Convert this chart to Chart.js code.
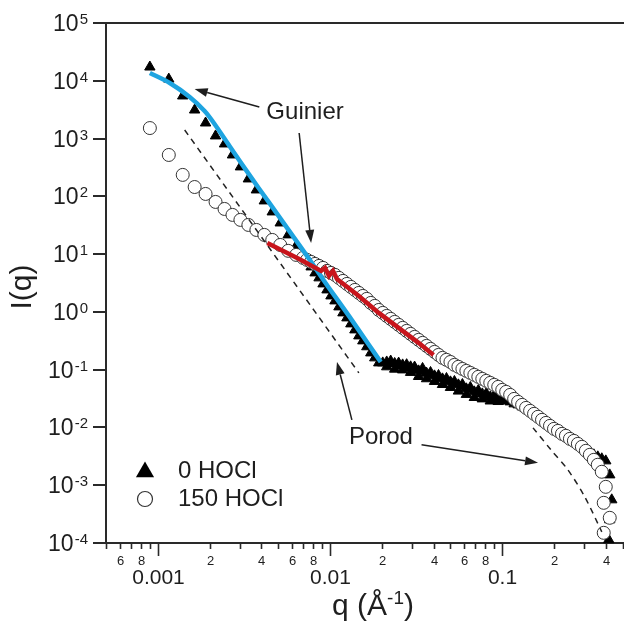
<!DOCTYPE html>
<html>
<head>
<meta charset="utf-8">
<script src="https://cdn.jsdelivr.net/npm/chart.js@4.4.0/dist/chart.umd.min.js"></script>
<style>
  html, body { margin: 0; padding: 0; background: #fff; overflow: hidden; }
  canvas { display: block; }
</style>
</head>
<body>
<canvas id="sansChart" width="630" height="626"></canvas>
<script>
// q grid shared by both measured curves (1/Angstrom)
const q = [0.000899, 0.001158, 0.001395, 0.001636, 0.001894, 0.002164, 0.00244, 0.002714, 0.003018, 0.003357,
  0.003736, 0.004155, 0.00462, 0.00514, 0.005717, 0.006361, 0.00698, 0.00736, 0.00777, 0.00819,
  0.00864, 0.00911, 0.00961, 0.01013, 0.01069, 0.01127, 0.01189, 0.01254, 0.01322, 0.01395,
  0.01471, 0.01551, 0.01636, 0.01726, 0.0182, 0.0192, 0.02025, 0.02135, 0.02252, 0.02375,
  0.02505, 0.02642, 0.02787, 0.02939, 0.031, 0.0327, 0.03449, 0.03637, 0.03836, 0.04046,
  0.04268, 0.04501, 0.04748, 0.05007, 0.05281, 0.0557, 0.05875, 0.06196, 0.06535, 0.06893,
  0.0727, 0.07668, 0.08087, 0.0853, 0.08996, 0.09488, 0.1001, 0.1055, 0.1113, 0.1174,
  0.1238, 0.1306, 0.1377, 0.1453, 0.1532, 0.1616, 0.1704, 0.1798, 0.1896, 0.2,
  0.2109, 0.2225, 0.2346, 0.2475, 0.261, 0.2753, 0.2904, 0.3063, 0.323, 0.3407,
  0.3593, 0.379, 0.3997];

// 0 HOCl (filled triangles)
const iHocl0 = [17300, 10700, 5460, 3120, 1860, 1110, 806, 520, 323, 200,
  129, 83.3, 53.7, 34.6, 21.5, 13.9, 9.31, 7.63, 6.0, 4.73,
  3.88, 3.05, 2.4, 1.89, 1.55, 1.22, 0.961, 0.787, 0.62, 0.488,
  0.384, 0.315, 0.249, 0.195, 0.16, 0.131, 0.131, 0.136, 0.126, 0.128,
  0.118, 0.121, 0.109, 0.112, 0.101, 0.0953, 0.0935, 0.087, 0.0813, 0.0781,
  0.0721, 0.0693, 0.064, 0.0615, 0.0568, 0.0546, 0.0504, 0.0466, 0.0447, 0.0413,
  0.0397, 0.0381, 0.0352, 0.0338, 0.0325, 0.0312, 0.03, 0.0288, 0.0277, 0.0256,
  0.0246, 0.0227, 0.021, 0.0194, 0.0172, 0.0153, 0.01356, 0.012, 0.01066, 0.00946,
  0.00839, 0.00775, 0.00688, 0.00635, 0.00563, 0.0052, 0.00481, 0.00426, 0.00378, 0.00336,
  0.0031, 0.00287, 0.00264];
// scatter of the 0 HOCl points in the shoulder (q grid points 37..66)
const iHocl0Scatter = [0.112, 0.141, 0.102, 0.13, 0.099, 0.122, 0.0896, 0.111, 0.0762, 0.105,
  0.0696, 0.0894, 0.0625, 0.0793, 0.0554, 0.0704, 0.0492, 0.0625, 0.0426, 0.0554,
  0.0373, 0.0492, 0.033, 0.0437, 0.0312, 0.0387, 0.0287, 0.0358, 0.0281, 0.0315];
const qTail0 = [0.4216, 0.433, 0.4216, 0.416];
const iTail0 = [0.00151, 0.000559, 0.000252, 0.000114];

// 150 HOCl (open circles)
const iHocl150 = [1520, 520, 235, 145, 110, 80, 60.5, 47.7, 39.1, 32.0,
  26.2, 21.5, 17.6, 14.4, 11.4, 9.69, 8.6, 7.94, 7.33, 6.77,
  6.25, 5.77, 5.12, 4.73, 4.37, 3.88, 3.44, 3.05, 2.71, 2.4,
  2.13, 1.89, 1.68, 1.43, 1.27, 1.08, 0.961, 0.852, 0.757, 0.671,
  0.596, 0.529, 0.469, 0.416, 0.369, 0.328, 0.291, 0.258, 0.229, 0.203,
  0.18, 0.16, 0.148, 0.136, 0.121, 0.112, 0.103, 0.0953, 0.088, 0.0813,
  0.0751, 0.0693, 0.064, 0.0591, 0.0546, 0.0504, 0.0447, 0.0413, 0.0366, 0.0312,
  0.0277, 0.0246, 0.0218, 0.0194, 0.0172, 0.0153, 0.01356, 0.012, 0.01066, 0.00946,
  0.00873, 0.00775, 0.00716, 0.00635, 0.00586, 0.0052, 0.00462, 0.00394, 0.00336, 0.00275,
  0.00226, 0.00171, 0.000938];
const qTail150 = [0.389, 0.4216, 0.389];
const iTail150 = [0.000496, 0.000273, 0.00015];

// Guinier fits
const qBlue = [0.000899, 0.001173, 0.001531, 0.001869, 0.002135, 0.002608, 0.003402, 0.004441, 0.005794, 0.007561, 0.009868, 0.01288, 0.01681, 0.01971];
const iBlue = [13640, 9160, 5250, 3000, 1790, 745, 235, 76.9, 25.2, 8.26, 2.6, 0.852, 0.269, 0.136];
const qRed = [0.004324, 0.00662, 0.008872, 0.009357, 0.009868, 0.01041, 0.01098, 0.01471, 0.0192, 0.02505, 0.0327, 0.03992];
const iRed = [15.6, 8.26, 5.12, 5.77, 4.2, 5.12, 3.72, 1.89, 0.961, 0.529, 0.291, 0.18];

// Porod lines (dashed)
const qPorodLow = [0.001432, 0.01471];
const iPorodLow = [1409, 0.088];
const qPorodHigh = [0.1511, 0.192, 0.2407, 0.3018, 0.379];
const iPorodHigh = [0.00984, 0.0041, 0.00185, 0.00063, 0.000156];

// axis ticks
const yDecades = [-4, -3, -2, -1, 0, 1, 2, 3, 4, 5];
const xDecades = [-4, -3, -2, -1];
const xMinorLabels = [2, 4, 6, 8];
const xMajorLabels = ['0.001', '0.01', '0.1'];

const FONT = "'Liberation Sans', Arial, sans-serif";
const INK = '#1e1e1e';

function pts(xs, ys) {
    return xs.map((x, i) => ({ x: x, y: ys[i] }));
}

function arrow(ctx, x1, y1, x2, y2) {
    const ang = Math.atan2(y2 - y1, x2 - x1);
    const head = 13, half = 4.5;
    const bx = x2 - Math.cos(ang) * head, by = y2 - Math.sin(ang) * head;
    ctx.beginPath();
    ctx.moveTo(x1, y1);
    ctx.lineTo(bx, by);
    ctx.stroke();
    ctx.beginPath();
    ctx.moveTo(x2, y2);
    ctx.lineTo(bx + Math.sin(ang) * half, by - Math.cos(ang) * half);
    ctx.lineTo(bx - Math.sin(ang) * half, by + Math.cos(ang) * half);
    ctx.closePath();
    ctx.fill();
}

// frame, ticks and labels drawn by hand so the superscripts look right
const axesPlugin = {
    id: 'sasAxes',
    beforeDatasetsDraw(chart) {
        const ctx = chart.ctx;
        const xs = chart.scales.x, ys = chart.scales.y;
        const { left, right, top, bottom } = chart.chartArea;
        ctx.save();
        ctx.strokeStyle = '#2a2a2a';
        ctx.lineWidth = 2;
        ctx.beginPath();
        ctx.moveTo(left - 13, top); ctx.lineTo(right + 5, top);
        ctx.moveTo(left, top); ctx.lineTo(left, bottom);
        ctx.moveTo(left - 6, bottom); ctx.lineTo(right + 5, bottom);
        ctx.stroke();

        // y ticks
        ctx.fillStyle = INK;
        yDecades.forEach(e => {
            const y = Math.round(ys.getPixelForValue(Math.pow(10, e)));
            ctx.beginPath();
            ctx.moveTo(left - 13, y); ctx.lineTo(left, y);
            ctx.stroke();
            const sup = String(e);
            ctx.font = '15px ' + FONT;
            ctx.textAlign = 'right';
            ctx.textBaseline = 'alphabetic';
            const supW = ctx.measureText(sup).width;
            ctx.fillText(sup, 88, y + 1);
            ctx.font = '23px ' + FONT;
            ctx.fillText('10', 88 - supW - 1, y + 8);
        });

        // x ticks
        ctx.lineWidth = 1.6;
        xDecades.forEach(k => {
            for (let m = 1; m <= 9; m++) {
                const v = m * Math.pow(10, k);
                if (v < xs.min * 0.999 || v > xs.max * 1.001) continue;
                const x = Math.round(xs.getPixelForValue(v)) + 0.5;
                ctx.beginPath();
                ctx.moveTo(x, bottom);
                ctx.lineTo(x, bottom + (m === 1 ? 13 : 6));
                ctx.stroke();
                ctx.textAlign = 'center';
                ctx.textBaseline = 'middle';
                if (xMinorLabels.includes(m)) {
                    ctx.font = '13px ' + FONT;
                    ctx.fillText(String(m), x, bottom + 18);
                }
                if (m === 1) {
                    const lab = xMajorLabels.find(s => Math.abs(parseFloat(s) - v) < v * 1e-6);
                    if (lab) {
                        ctx.font = '21px ' + FONT;
                        ctx.fillText(lab, x, bottom + 35);
                    }
                }
            }
        });

        // axis titles
        ctx.textBaseline = 'alphabetic';
        ctx.textAlign = 'left';
        const t1 = 'q (\u00C5', t2 = ')';
        ctx.font = '19px ' + FONT;
        const supW = ctx.measureText('-1').width;
        ctx.font = '30px ' + FONT;
        const w1 = ctx.measureText(t1).width, w2 = ctx.measureText(t2).width;
        const tx = 373 - (w1 + supW + w2) / 2;
        ctx.fillText(t1, tx, 615);
        ctx.font = '19px ' + FONT;
        ctx.fillText('-1', tx + w1, 604);
        ctx.font = '30px ' + FONT;
        ctx.fillText(t2, tx + w1 + supW, 615);

        ctx.save();
        ctx.translate(23, 287);
        ctx.rotate(-Math.PI / 2);
        ctx.textAlign = 'center';
        ctx.textBaseline = 'middle';
        ctx.fillText('I(q)', 0, 0);
        ctx.restore();
        ctx.restore();
    },
    afterDatasetsDraw(chart) {
        const ctx = chart.ctx;
        const xs = chart.scales.x, ys = chart.scales.y;
        const P = (qv, iv) => [xs.getPixelForValue(qv), ys.getPixelForValue(iv)];
        ctx.save();
        ctx.fillStyle = INK;
        ctx.strokeStyle = INK;
        ctx.lineWidth = 1.5;

        // annotations
        ctx.font = '24px ' + FONT;
        ctx.textAlign = 'left';
        ctx.textBaseline = 'middle';
        let p = P(0.00427, 2880);
        ctx.fillText('Guinier', p[0], p[1]);
        p = P(0.01288, 0.00661);
        ctx.fillText('Porod', p[0], p[1]);
        let a = P(0.003887, 3520), b = P(0.001636, 7210);
        arrow(ctx, a[0], a[1], b[0], b[1]);
        a = P(0.00662, 1250); b = P(0.00777, 15.6);
        arrow(ctx, a[0], a[1], b[0], b[1]);
        a = P(0.0134, 0.01354); b = P(0.01098, 0.1364);
        arrow(ctx, a[0], a[1], b[0], b[1]);
        a = P(0.03402, 0.005); b = P(0.1616, 0.00244);
        arrow(ctx, a[0], a[1], b[0], b[1]);

        // legend
        ctx.fillStyle = '#000';
        ctx.beginPath();
        const r = 10.5, lx = 145, ly = 472;
        ctx.moveTo(lx, ly - r);
        ctx.lineTo(lx + r * 0.866, ly + r * 0.5);
        ctx.lineTo(lx - r * 0.866, ly + r * 0.5);
        ctx.closePath();
        ctx.fill();
        ctx.beginPath();
        ctx.arc(145, 499, 7.5, 0, 2 * Math.PI);
        ctx.fillStyle = '#fff';
        ctx.fill();
        ctx.lineWidth = 1.2;
        ctx.strokeStyle = '#333';
        ctx.stroke();
        ctx.fillStyle = INK;
        ctx.fillText('0 HOCl', 178, 471);
        ctx.fillText('150 HOCl', 178, 499);
        ctx.restore();
    }
};

const ctx = document.getElementById('sansChart').getContext('2d');
new Chart(ctx, {
    type: 'scatter',
    data: {
        datasets: [
            {
                label: 'Guinier (150 HOCl)',
                data: pts(qRed, iRed),
                showLine: true, pointRadius: 0,
                borderColor: '#c8141b', borderWidth: 4.5,
                clip: false
            },
            {
                label: 'Guinier (0 HOCl)',
                data: pts(qBlue, iBlue),
                showLine: true, pointRadius: 0, tension: 0.3,
                borderColor: '#1ea4e0', borderWidth: 4.5,
                clip: false
            },
            {
                label: 'Porod low q',
                data: pts(qPorodLow, iPorodLow),
                showLine: true, pointRadius: 0,
                borderColor: '#222', borderWidth: 1.5, borderDash: [6, 5],
                clip: false
            },
            {
                label: 'Porod high q',
                data: pts(qPorodHigh, iPorodHigh),
                showLine: true, pointRadius: 0, tension: 0.3,
                borderColor: '#222', borderWidth: 1.5, borderDash: [6, 5],
                clip: false
            },
            {
                label: '150 HOCl',
                data: pts(q, iHocl150).concat(pts(qTail150, iTail150)),
                pointStyle: 'circle', pointRadius: 6.5,
                backgroundColor: '#fff', borderColor: '#333', borderWidth: 1,
                clip: false
            },
            {
                label: '0 HOCl',
                data: pts(q, iHocl0)
                    .concat(pts(q.slice(37, 67), iHocl0Scatter))
                    .concat(pts(qTail0, iTail0)),
                pointStyle: 'triangle', pointRadius: 6,
                backgroundColor: '#000', borderColor: '#000', borderWidth: 1,
                clip: false
            }
        ]
    },
    options: {
        responsive: false,
        animation: false,
        devicePixelRatio: 1,
        events: [],
        layout: { padding: { left: 106, top: 23, right: 5, bottom: 83 } },
        plugins: { legend: { display: false }, tooltip: { enabled: false } },
        scales: {
            x: { type: 'logarithmic', min: 0.0005, max: 0.5, display: false },
            y: { type: 'logarithmic', min: 1e-4, max: 1e5, display: false }
        }
    },
    plugins: [axesPlugin]
});
</script>
</body>
</html>
